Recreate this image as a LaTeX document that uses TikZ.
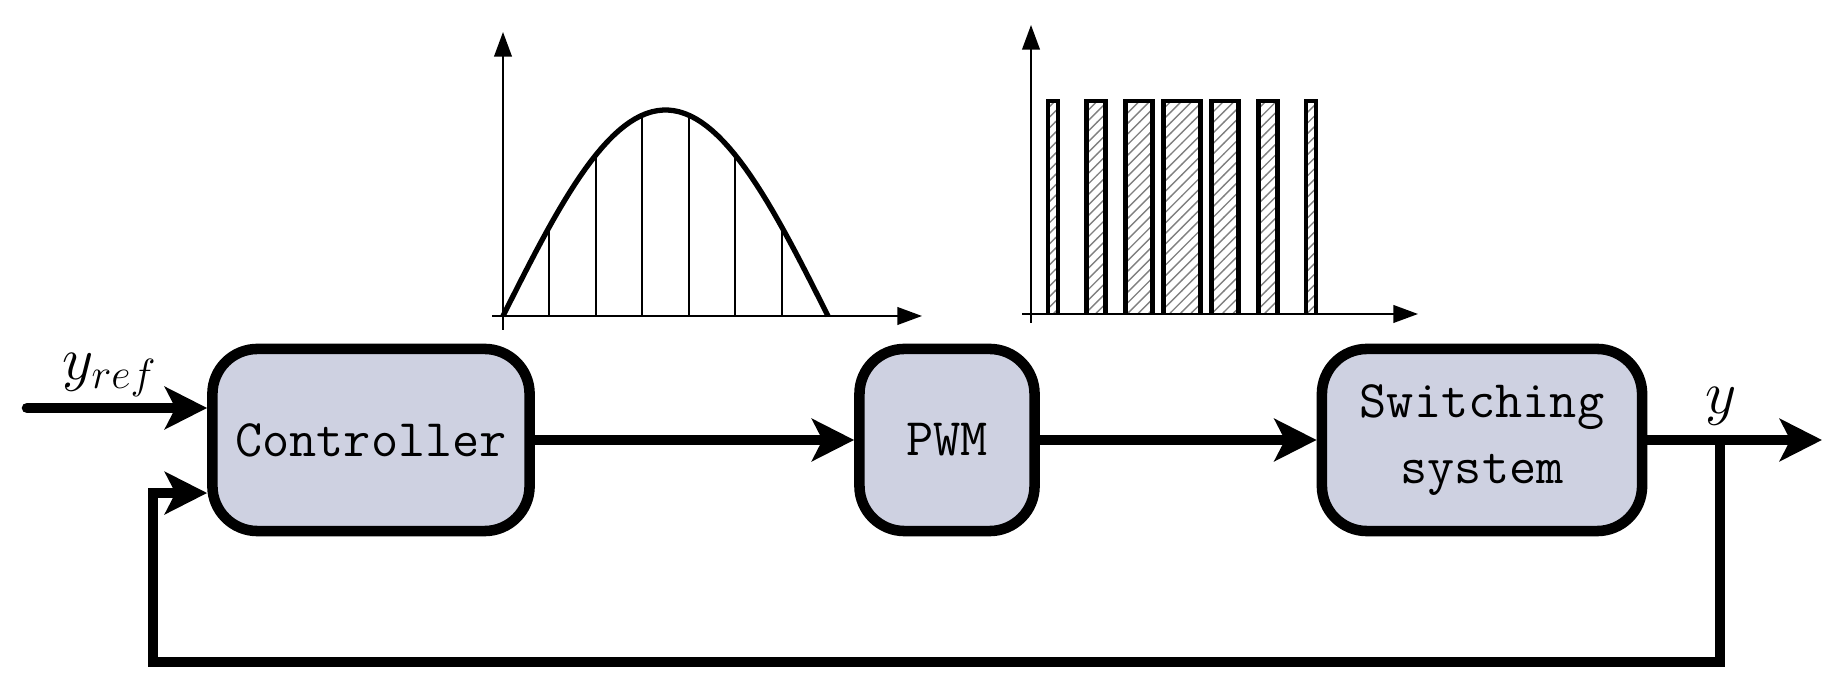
\documentclass[tikz,border=0pt]{standalone}
\usetikzlibrary{arrows.meta,patterns}
\definecolor{boxfill}{RGB}{206,209,225}
\begin{document}
\begin{tikzpicture}[x=0.01cm, y=-0.01cm,
    block/.style={rectangle, rounded corners=0.45cm, draw, line width=3pt, fill=boxfill, minimum height=1.82cm, inner sep=0pt, align=center, font=\ttfamily\fontsize{15}{19}\selectfont},
    sig/.style={line width=3pt, -{Stealth[length=12pt, width=12pt, inset=3pt]}},
    axis/.style={line width=0.6pt, -{Triangle[length=7pt, width=5pt]}},
    pulse/.style={line width=1.2pt, pattern=north east lines, pattern color=gray},
]
    \useasboundingbox (0,0) rectangle (1843,692);

    % Sampled reference signal
    \begin{scope}
        \foreach \i in {1,...,6}
            \draw[line width=0.6pt] ({503+\i*325/7},316) -- ({503+\i*325/7},{316-206*sin(\i*180/7)});
        \draw[line width=1.5pt] plot[domain=0:180, samples=60] ({503+\x/180*325},{316-206*sin(\x)});
        \draw[axis] (503,330) -- (503,32);
        \draw[axis] (492,316) -- (922,316);
    \end{scope}

    % PWM pulse train
    \begin{scope}
        \foreach \c/\w in {1053/10, 1096/19, 1139/27, 1182/37, 1225/27, 1268/19, 1311/10}
            \draw[pulse] ({\c-\w/2},314) -- ({\c-\w/2},101) -- ({\c+\w/2},101) -- ({\c+\w/2},314);
        \draw[axis] (1031,323) -- (1031,25);
        \draw[axis] (1022,314) -- (1418,314);
    \end{scope}

    % Loop blocks
    \node[block, minimum width=3.17cm] (ctrl) at (371,440) {Controller};
    \node[block, minimum width=1.75cm] (pwm) at (947,440) {PWM};
    \node[block, minimum width=3.2cm] (sw) at (1482,440) {Switching\\system};

    \coordinate (yin) at (27,408);
    \coordinate (br) at (1720,440);
    \coordinate (yout) at (1822,440);
    \coordinate (fb) at (153,662);
    \coordinate (fbin) at ([yshift=-0.53cm]ctrl.west);

    % Signals
    \draw[sig, line cap=round] (yin) -- (yin -| ctrl.west);
    \draw[sig] (ctrl) -- (pwm);
    \draw[sig] (pwm) -- (sw);
    \draw[sig] (sw) -- (yout);
    \draw[sig] (br) |- (fb) |- (fbin);

    \node[font=\fontsize{17}{20}\selectfont] (yref) at (110,375) {$y_{ref}$};
    \node[font=\fontsize{17}{20}\selectfont] (ylab) at (1721,406) {$y$};
\end{tikzpicture}
\end{document}
